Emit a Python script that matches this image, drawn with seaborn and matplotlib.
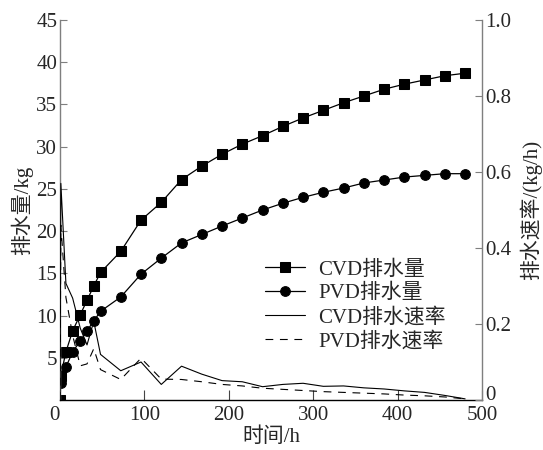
import matplotlib
matplotlib.use("Agg")
import matplotlib.pyplot as plt
import seaborn as sns
import pandas as pd

# ---- data ----
t_hours = [0, 1, 7, 15, 24, 32, 40, 48, 72, 96, 120, 144, 168, 192, 216, 240,
           264, 288, 312, 336, 360, 384, 408, 432, 456, 480]
cvd_cum = [0, 2.9, 5.7, 8.2, 10.1, 11.8, 13.5, 15.1, 17.6, 21.3, 23.4, 26.1, 27.7,
           29.1, 30.3, 31.3, 32.4, 33.4, 34.3, 35.2, 36.0, 36.8, 37.4, 37.9, 38.4, 38.7]
pvd_cum = [0, 2.0, 3.9, 5.7, 7.0, 8.2, 9.35, 10.5, 12.2, 14.9, 16.8, 18.6, 19.6,
           20.6, 21.55, 22.5, 23.3, 24.0, 24.6, 25.1, 25.7, 26.05, 26.4, 26.6, 26.8, 26.8]
cvd_rate = [0, 0.57, 0.307, 0.268, 0.189, 0.145, 0.207, 0.12, 0.077, 0.10, 0.041,
            0.089, 0.068, 0.051, 0.048, 0.035, 0.041, 0.044, 0.036, 0.037, 0.032,
            0.029, 0.024, 0.020, 0.012, 0.003]
pvd_rate = [0, 0.46, 0.27, 0.17, 0.09, 0.095, 0.135, 0.08, 0.054, 0.11, 0.055,
            0.054, 0.048, 0.041, 0.037, 0.031, 0.028, 0.025, 0.022, 0.020, 0.018,
            0.016, 0.013, 0.011, 0.008, 0.003]
series_labels = ["CVD排水量", "PVD排水量", "CVD排水速率", "PVD排水速率"]
x_ticks = [0, 100, 200, 300, 400, 500]
left_ticks = [5, 10, 15, 20, 25, 30, 35, 40, 45]
right_ticks = [0, 0.2, 0.4, 0.6, 0.8, 1.0]
right_tick_labels = ["0", "0.2", "0.4", "0.6", "0.8", "1.0"]

sns.set_style("ticks")
plt.rcParams["font.family"] = ["Liberation Serif", "Noto Sans CJK SC"]
plt.rcParams["axes.unicode_minus"] = False
FS = 15

df = pd.DataFrame({"t": t_hours, "cvd": cvd_cum, "pvd": pvd_cum,
                   "cvdr": cvd_rate, "pvdr": pvd_rate})

fig = plt.figure(figsize=(5.43, 4.5), dpi=100)
ax = fig.add_axes([60 / 543, 1 - 400 / 450, (482 - 60) / 543, (400 - 20) / 450])
ax2 = ax.twinx()

sns.lineplot(data=df, x="t", y="cvd", ax=ax, color="black", lw=0.9, marker="s",
             markersize=6.5, markeredgecolor="black", markerfacecolor="black",
             label=series_labels[0], legend=False)
sns.lineplot(data=df, x="t", y="pvd", ax=ax, color="black", lw=0.9, marker="o",
             markersize=7, markeredgecolor="black", markerfacecolor="black",
             label=series_labels[1], legend=False)
sns.lineplot(data=df, x="t", y="cvdr", ax=ax2, color="black", lw=0.8,
             label=series_labels[2], legend=False)
sns.lineplot(data=df, x="t", y="pvdr", ax=ax2, color="black", lw=0.8,
             linestyle=(0, (7, 6)), label=series_labels[3], legend=False)

ax.set_xlim(0, 500)
ax.set_ylim(0, 45)
ax2.set_ylim(0, 1.0)
ax.set_xticks(x_ticks)
ax.set_xticklabels([str(v) for v in x_ticks])
ax.set_yticks(left_ticks)
ax.set_yticklabels([str(v) for v in left_ticks])
ax2.set_yticks(right_ticks)
ax2.set_yticklabels(right_tick_labels)

grey = "#7f7f7f"
for a in (ax, ax2):
    a.spines["top"].set_visible(False)
ax.spines["right"].set_visible(False)
ax.spines["left"].set_color(grey)
ax.spines["bottom"].set_color("black")
ax2.spines["left"].set_visible(False)
ax2.spines["bottom"].set_visible(False)
ax2.spines["right"].set_color(grey)
for s in ("left", "bottom"):
    ax.spines[s].set_linewidth(1.0)
ax2.spines["right"].set_linewidth(1.0)

ax.tick_params(axis="x", direction="in", length=7, width=0.8, color="#444444",
               labelsize=FS, pad=4)
ax.tick_params(axis="y", direction="in", length=5, width=0.8, color=grey,
               labelsize=FS, pad=2)
ax2.tick_params(axis="y", direction="in", length=5, width=0.8, color=grey,
                labelsize=FS, pad=2)
ax.get_xticklabels()[0].set_horizontalalignment("right")
ax2.get_yticklabels()[0].set_verticalalignment("baseline")

ax.set_xlabel("时间/h", fontsize=FS, labelpad=2)
ax.set_ylabel("排水量/kg", fontsize=FS, labelpad=2)
ax2.set_ylabel("排水速率/(kg/h)", fontsize=FS, labelpad=6)

h1, l1 = ax.get_legend_handles_labels()
h2, l2 = ax2.get_legend_handles_labels()
leg = ax2.legend(h1 + h2, l1 + l2, loc="upper left",
                 bbox_to_anchor=(265 / 543, 1 - 260 / 450),
                 bbox_transform=fig.transFigure, frameon=False, fontsize=FS,
                 handlelength=1.9, handletextpad=0.65, labelspacing=0.2,
                 borderpad=0, borderaxespad=0)

fig.savefig("out.png", dpi=100)
